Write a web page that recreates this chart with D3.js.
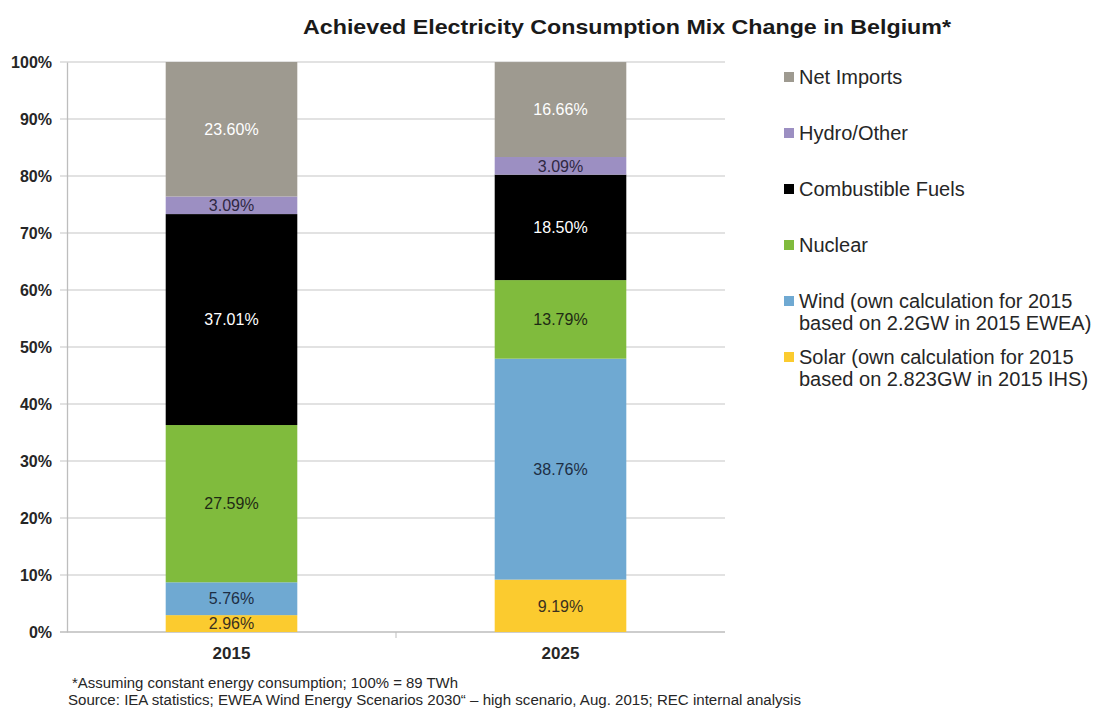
<!DOCTYPE html>
<html>
<head>
<meta charset="utf-8">
<script src="https://cdn.jsdelivr.net/npm/d3@7"></script>
<style>
  body { margin: 0; background: #fff; }
  svg { font-family: "Liberation Sans", Arial, sans-serif; }
</style>
</head>
<body>
<div id="chart"></div>
<script>
// data, bottom to top of each bar
const years = ["2015", "2025"];
const sources = ["Solar", "Wind", "Nuclear", "Combustible Fuels", "Hydro/Other", "Net Imports"];
const solar = [2.96, 9.19];
const wind = [5.76, 38.76];
const nuclear = [27.59, 13.79];
const combustible = [37.01, 18.50];
const hydro = [3.09, 3.09];
const imports = [23.60, 16.66];
const yTicks = [0, 10, 20, 30, 40, 50, 60, 70, 80, 90, 100];

const legendLabels = [
  ["Net Imports"],
  ["Hydro/Other"],
  ["Combustible Fuels"],
  ["Nuclear"],
  ["Wind (own calculation for 2015", "based on 2.2GW in 2015 EWEA)"],
  ["Solar (own calculation for 2015", "based on 2.823GW in 2015 IHS)"]
];

const colors = {
  "Solar": "#fbcb2f",
  "Wind": "#6fa9d2",
  "Nuclear": "#80bb3d",
  "Combustible Fuels": "#000000",
  "Hydro/Other": "#9c8fc2",
  "Net Imports": "#9e9a90"
};
const labelColors = {
  "Solar": "#3a3020",
  "Wind": "#1d2e44",
  "Nuclear": "#1e2a14",
  "Combustible Fuels": "#ffffff",
  "Hydro/Other": "#2f2842",
  "Net Imports": "#ffffff"
};

const width = 1093, height = 709;
const margin = { top: 62, left: 67, right: 368, bottom: 77 };

const rows = years.map((y, i) => ({
  year: y,
  "Solar": solar[i],
  "Wind": wind[i],
  "Nuclear": nuclear[i],
  "Combustible Fuels": combustible[i],
  "Hydro/Other": hydro[i],
  "Net Imports": imports[i]
}));

const svg = d3.select("#chart").append("svg")
  .attr("width", width)
  .attr("height", height);

let x = d3.scaleBand()
  .domain(years)
  .range([margin.left, width - margin.right])
  .paddingInner(0.6)
  .paddingOuter(0.3);

let y = d3.scaleLinear()
  .domain([0, 100])
  .range([height - margin.bottom, margin.top]);

// gridlines
svg.append("g")
  .selectAll("line")
  .data(yTicks)
  .enter()
  .append("line")
  .attr("x1", margin.left - 7)
  .attr("x2", width - margin.right)
  .attr("y1", d => y(d))
  .attr("y2", d => y(d))
  .attr("stroke", d => d === 0 ? "#bdbdbd" : "#d9d9d9")
  .attr("stroke-width", 1.3);

// y axis
let yAxis = d3.axisLeft(y)
  .tickValues(yTicks)
  .tickSize(0)
  .tickPadding(15)
  .tickFormat(d => d + "%");

svg.append("g")
  .attr("transform", `translate(${margin.left}, 0)`)
  .call(yAxis)
  .call(g => g.select(".domain").attr("stroke", "#bdbdbd").attr("stroke-width", 1.3))
  .selectAll("text")
  .attr("font-size", 16)
  .attr("font-weight", "bold")
  .attr("fill", "#262626");

// x axis
let xAxis = d3.axisBottom(x).tickSize(0).tickPadding(15);
svg.append("g")
  .attr("transform", `translate(0, ${y(0)})`)
  .call(xAxis)
  .call(g => g.select(".domain").remove())
  .selectAll("text")
  .attr("font-size", 17)
  .attr("font-weight", "bold")
  .attr("fill", "#262626");

// category divider tick
svg.append("line")
  .attr("x1", (x("2015") + x("2025") + x.bandwidth()) / 2)
  .attr("x2", (x("2015") + x("2025") + x.bandwidth()) / 2)
  .attr("y1", y(0))
  .attr("y2", y(0) + 6)
  .attr("stroke", "#bdbdbd");

// stacked bars
let stack = d3.stack().keys(sources);
let series = stack(rows);

let layer = svg.selectAll(".layer")
  .data(series)
  .enter()
  .append("g")
  .attr("class", "layer")
  .attr("fill", d => colors[d.key]);

layer.selectAll("rect")
  .data(d => d)
  .enter()
  .append("rect")
  .attr("x", d => x(d.data.year))
  .attr("width", x.bandwidth())
  .attr("y", d => y(Math.min(d[1], 100)))
  .attr("height", d => y(d[0]) - y(Math.min(d[1], 100)));

layer.each(function(s) {
  d3.select(this).selectAll("text")
    .data(s)
    .enter()
    .append("text")
    .attr("x", d => x(d.data.year) + x.bandwidth() / 2)
    .attr("y", d => (y(d[0]) + y(Math.min(d[1], 100))) / 2)
    .attr("dy", ".36em")
    .attr("text-anchor", "middle")
    .attr("font-size", 16)
    .attr("fill", labelColors[s.key])
    .text(d => (d[1] - d[0]).toFixed(2) + "%");
});

// title
svg.append("text")
  .attr("x", 627)
  .attr("y", 34)
  .attr("text-anchor", "middle")
  .attr("font-size", 21)
  .attr("font-weight", "bold")
  .attr("fill", "#1a1a1a")
  .attr("textLength", 648)
  .attr("lengthAdjust", "spacingAndGlyphs")
  .text("Achieved Electricity Consumption Mix Change in Belgium*");

// legend
const legendKeys = sources.slice().reverse();
let legend = svg.selectAll(".legend")
  .data(legendKeys)
  .enter()
  .append("g")
  .attr("class", "legend")
  .attr("transform", (d, i) => `translate(784, ${77 + i * 56})`);

legend.append("rect")
  .attr("x", 0)
  .attr("y", -5)
  .attr("width", 10)
  .attr("height", 10)
  .attr("fill", d => colors[d]);

legend.append("text")
  .attr("x", 15)
  .attr("font-size", 20)
  .attr("fill", "#262626")
  .each(function(d, i) {
    let lines = legendLabels[i];
    d3.select(this).selectAll("tspan")
      .data(lines)
      .enter()
      .append("tspan")
      .attr("x", 15)
      .attr("dy", (l, j) => j === 0 ? "0.36em" : "1.1em")
      .text(l => l);
  });

// footnotes
svg.append("text")
  .attr("x", 72)
  .attr("y", 688)
  .attr("font-size", 14)
  .attr("fill", "#262626")
  .attr("textLength", 386)
  .attr("lengthAdjust", "spacingAndGlyphs")
  .text("*Assuming constant energy consumption; 100% = 89 TWh");

svg.append("text")
  .attr("x", 68)
  .attr("y", 705)
  .attr("font-size", 14)
  .attr("fill", "#262626")
  .attr("textLength", 733)
  .attr("lengthAdjust", "spacingAndGlyphs")
  .text("Source: IEA statistics; EWEA Wind Energy Scenarios 2030\u201C \u2013 high scenario, Aug. 2015; REC internal analysis");
</script>
</body>
</html>
